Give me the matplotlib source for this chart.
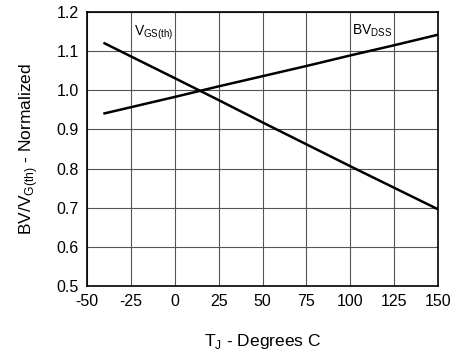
import numpy as np
import matplotlib.pyplot as plt

plt.rcParams['font.family'] = ['Liberation Sans', 'DejaVu Sans']

tj = [-40, 0, 25, 50, 75, 100, 125, 150]
vgs_th = [1.12, 1.031, 0.975, 0.918, 0.862, 0.806, 0.751, 0.696]
bv_dss = [0.941, 0.983, 1.010, 1.036, 1.062, 1.089, 1.115, 1.142]

xticks = [-50, -25, 0, 25, 50, 75, 100, 125, 150]
yticks = [0.5, 0.6, 0.7, 0.8, 0.9, 1.0, 1.1, 1.2]

fig = plt.figure(figsize=(4.56, 3.56), dpi=100)
ax = fig.add_axes([87/456, 1 - 286/356, 351/456, 274/356])

ax.plot(tj, vgs_th, color='black', lw=1.8)
ax.plot(tj, bv_dss, color='black', lw=1.8)

ax.set_xlim(-50, 150)
ax.set_ylim(0.5, 1.2)
ax.set_xticks(xticks)
ax.set_yticks(yticks)
ax.set_xticklabels([str(t) for t in xticks])
ax.set_yticklabels([f'{t:.1f}' for t in yticks])
ax.tick_params(length=0, labelsize=11.5, pad=6)
ax.grid(True, color='#555555', lw=0.8)
for s in ax.spines.values():
    s.set_linewidth(1.2)

ax.text(-23, 1.146, r'V$_{\mathregular{GS(th)}}$', fontsize=10, va='center')
ax.text(101, 1.152, r'BV$_{\mathregular{DSS}}$', fontsize=10, va='center')

ax.set_xlabel(r'T$_{\mathregular{J}}$ - Degrees C', fontsize=12.5, labelpad=16)
ax.set_ylabel(r'BV/V$_{\mathregular{G(th)}}$ - Normalized', fontsize=12.5, labelpad=12)

fig.savefig('out.png', dpi=100)
